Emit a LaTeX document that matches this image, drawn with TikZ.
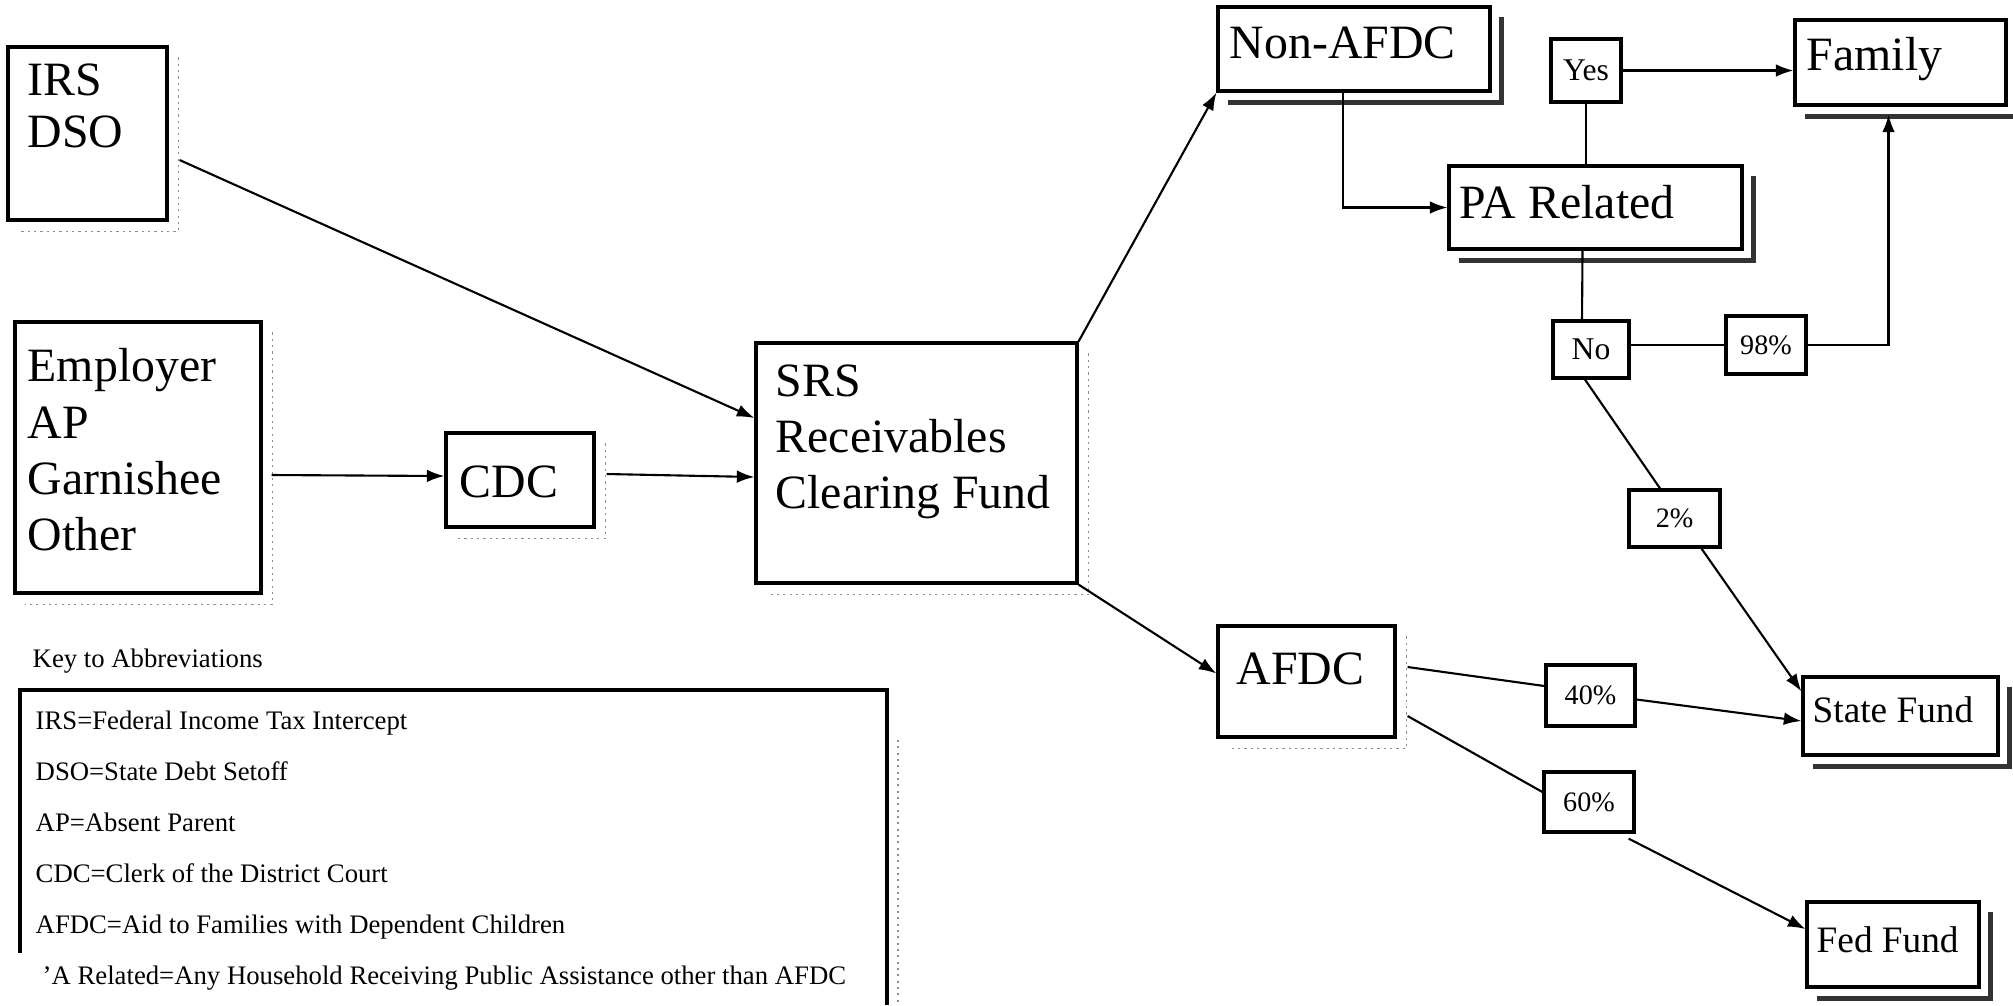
\documentclass[tikz,border=0pt]{standalone}
\usepackage{fontspec}
\setmainfont{Liberation Serif}
\usetikzlibrary{arrows.meta,fit}

\tikzset{
  box/.style={draw, line width=0.9pt, inner sep=0pt},
  big/.style={font=\fontsize{13.6}{16}\selectfont, align=left, inner sep=0pt, anchor=north west},
  mid/.style={font=\fontsize{10.6}{12}\selectfont, inner sep=0pt, anchor=north west},
  tag/.style={box, font=\fontsize{9}{10}\selectfont},
  pct/.style={box, font=\fontsize{8}{9}\selectfont},
  keytext/.style={font=\fontsize{7.6}{14.5}\selectfont, align=left, inner sep=0pt, anchor=north west},
  flow/.style={line width=0.6pt},
  arr/.style={flow, -{Latex[length=5pt,width=3.6pt]}},
  hardshadow/.style={line width=1.4pt, black!80},
  softshadow/.style={line width=0.5pt, black!45, dash pattern=on 0.6pt off 1.2pt},
}
% rough drop shadow along the right and lower edge of a box
\newcommand\dropshade[2][hardshadow]{%
  \draw[#1] ([shift={(10,12)}]#2.north east) -- ([shift={(10,10)}]#2.south east)
    -- ([shift={(12,10)}]#2.south west);}

\begin{document}
\begin{tikzpicture}[x=0.01cm, y=-0.01cm]
    \useasboundingbox (0,0) rectangle (2013,1005);

    % where the money comes from
    \node[box, fit={(8,47) (167,220)}] (irs) {};
    \node[big, font=\fontsize{13.6}{14.8}\selectfont] (irs-txt) at (27,63) {IRS\\DSO};
    \node[box, fit={(15,322) (261,593)}] (emp) {};
    \node[big] (emp-txt) at (27,348) {Employer\\AP\\Garnishee\\Other};
    \node[box, fit={(446,433) (594,527)}] (cdc) {};
    \node[big] (cdc-txt) at (459,465) {CDC};
    \node[box, fit={(756,343) (1077,583)}] (srs) {};
    \node[big] (srs-txt) at (775,364) {SRS\\Receivables\\Clearing Fund};

    % the two branches
    \node[box, fit={(1218,7) (1490,91)}] (nonafdc) {};
    \node[big] (nonafdc-txt) at (1229,26) {Non-AFDC};
    \node[box, fit={(1218,626) (1395,737)}] (afdc) {};
    \node[big] (afdc-txt) at (1236,652) {AFDC};
    \node[box, fit={(1449,166) (1742,249)}] (pa) {};
    \node[big] (pa-txt) at (1459,185) {PA Related};

    % where it ends up
    \node[box, fit={(1795,20) (2006,105)}] (family) {};
    \node[big] (family-txt) at (1806,37) {Family};
    \node[box, fit={(1803,677) (1998,755)}] (state) {};
    \node[mid] (state-txt) at (1812,696) {State Fund};
    \node[box, fit={(1807,902) (1979,987)}] (fed) {};
    \node[mid] (fed-txt) at (1816,926) {Fed Fund};

    % yes/no and shares
    \node[tag, minimum width=0.70cm, minimum height=0.63cm] (yes) at (1586,70.5) {Yes};
    \node[tag, minimum width=0.76cm, minimum height=0.57cm] (no) at (1591,349.5) {No};
    \node[pct, minimum width=0.80cm, minimum height=0.58cm] (p98) at (1766,345) {98\%};
    \node[pct, minimum width=0.91cm, minimum height=0.57cm] (p2) at (1674.5,518.5) {2\%};
    \node[pct, minimum width=0.89cm, minimum height=0.61cm] (p40) at (1590.5,695.5) {40\%};
    \node[pct, minimum width=0.90cm, minimum height=0.60cm] (p60) at (1589,802) {60\%};

    \dropshade[softshadow]{irs}
    \dropshade[softshadow]{emp}
    \dropshade[softshadow]{cdc}
    \dropshade[softshadow]{srs}
    \dropshade[softshadow]{afdc}
    \dropshade{nonafdc}
    \dropshade{pa}
    \dropshade{family}
    \dropshade{state}
    \dropshade{fed}

    % into the clearing fund
    \draw[arr] ([shift={(11,26.5)}]irs.east) -- ([shift={(0,-45)}]srs.west);
    \draw[arr] ([shift={(9,17.5)}]emp.east) -- ([shift={(0,-4)}]cdc.west);
    \draw[arr] ([shift={(11,-6)}]cdc.east) -- ([shift={(0,14)}]srs.west);
    \draw[arr] (srs.north east) -- (nonafdc.south west);
    \draw[arr] (srs.south east) -- ([shift={(0,-8)}]afdc.west);

    % non-AFDC side
    \draw[arr] ([shift={(-11,0)}]nonafdc.south) |- (pa.west);
    \draw[flow] (yes.south) -- (yes.south |- pa.north);
    \draw[arr] (yes.east) -- (yes.east -| family.west);
    \draw[flow] ([shift={(-13,0)}]pa.south) -- ([shift={(-9,0)}]no.north);
    \draw[flow] (p98.west -| no.east) -- (p98.west);
    \draw[arr] (p98.east) -| ([shift={(-12,8)}]family.south);
    \draw[flow] ([shift={(-6,0)}]no.south) -- ([shift={(-14.5,0)}]p2.north);
    \draw[arr] ([shift={(27,0)}]p2.south) -- ([shift={(0,16)}]state.north west);

    % AFDC split
    \draw[flow] ([shift={(11,-14.5)}]afdc.east) -- ([shift={(0,-9.5)}]p40.west);
    \draw[arr] ([shift={(0,4)}]p40.east) -- ([shift={(0,5)}]state.west);
    \draw[flow] ([shift={(11,34.5)}]afdc.east) -- ([shift={(0,-10)}]p60.west);
    \draw[arr] ([shift={(-7,5)}]p60.south east) -- ([shift={(0,-15.5)}]fed.west);

    % key
    \node[keytext] (key-title) at (32,648) {Key to Abbreviations};
    \draw[line width=0.9pt] (20,953) -- (20,690) -- (887,690) -- (887,1005);
    \draw[softshadow] (898,740) -- (898,1005);
    \node[keytext] (key) at (35,710) {IRS=Federal Income Tax Intercept\\
      DSO=State Debt Setoff\\
      AP=Absent Parent\\
      CDC=Clerk of the District Court\\
      AFDC=Aid to Families with Dependent Children\\
      \hspace*{2pt}'A Related=Any Household Receiving Public Assistance other than AFDC};
\end{tikzpicture}
\end{document}
